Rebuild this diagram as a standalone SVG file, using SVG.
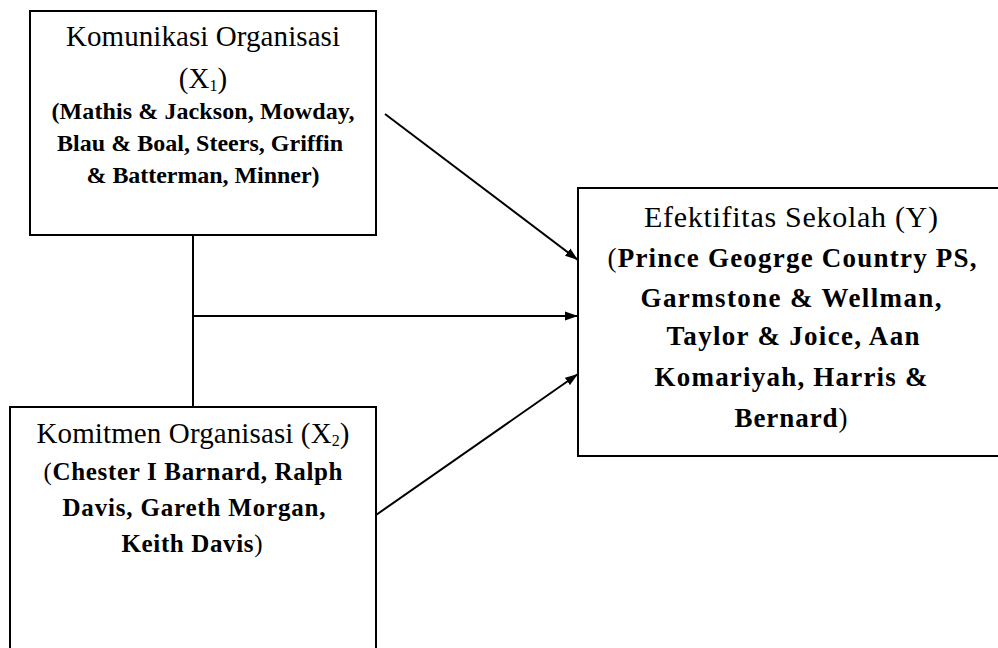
<svg xmlns="http://www.w3.org/2000/svg" width="998" height="648" viewBox="0 0 998 648">
<style>
.box{fill:#fff;stroke:#000;stroke-width:2}
.reg{font-family:"Liberation Serif","Times New Roman",serif;font-size:29px;fill:#000}
.bold{font-family:"Liberation Serif","Times New Roman",serif;font-size:24px;font-weight:bold;fill:#000}
.b25{font-size:25px}
.b27{font-size:27px}
.r30{font-size:30px}
.n{font-weight:normal}
.conn{stroke:#000;stroke-width:2;fill:none}
.sub{font-size:16px}
</style>
<defs>
<marker id="ah" markerUnits="userSpaceOnUse" markerWidth="14" markerHeight="10" refX="13" refY="5" orient="auto">
<path d="M0,0.5 L13,5 L0,9.5 z" fill="#000"/>
</marker>
</defs>
<rect width="998" height="648" fill="#fff"/>
<g id="connectors">
<line class="conn" x1="193" y1="235" x2="193" y2="407"/>
<line class="conn" x1="385" y1="114" x2="578" y2="260" marker-end="url(#ah)"/>
<line class="conn" x1="193" y1="316" x2="578" y2="316" marker-end="url(#ah)"/>
<line class="conn" x1="376" y1="515" x2="578" y2="374" marker-end="url(#ah)"/>
</g>
<g id="node-x1">
<rect class="box" x="30" y="11" width="346" height="224"/>
<text class="reg" x="203" y="46" text-anchor="middle" textLength="274">Komunikasi Organisasi</text>
<text class="reg" x="203" y="88" text-anchor="middle">(X<tspan class="sub" dy="3">1</tspan><tspan dy="-3">)</tspan></text>
<text class="bold" x="203" y="119" text-anchor="middle" textLength="303">(Mathis &amp; Jackson, Mowday,</text>
<text class="bold" x="200" y="151" text-anchor="middle" textLength="286">Blau &amp; Boal, Steers, Griffin</text>
<text class="bold" x="203" y="183" text-anchor="middle" textLength="233">&amp; Batterman, Minner)</text>
</g>
<g id="node-x2">
<rect class="box" x="10" y="407" width="366" height="260"/>
<text class="reg" x="193" y="443" text-anchor="middle" textLength="313">Komitmen Organisasi (X<tspan class="sub" dy="3">2</tspan><tspan dy="-3">)</tspan></text>
<text class="bold b25" x="193" y="480" text-anchor="middle" textLength="299"><tspan class="n">(</tspan>Chester I Barnard, Ralph</text>
<text class="bold b25" x="194" y="516" text-anchor="middle" textLength="263">Davis, Gareth Morgan,</text>
<text class="bold b25" x="192" y="552" text-anchor="middle" textLength="141">Keith Davis<tspan class="n">)</tspan></text>
</g>
<g id="node-y">
<rect class="box" x="578" y="188" width="440" height="268"/>
<text class="reg r30" x="791" y="227" text-anchor="middle" textLength="294">Efektifitas Sekolah (Y)</text>
<text class="bold b27" x="792" y="267" text-anchor="middle" textLength="369"><tspan class="n">(</tspan>Prince Geogrge Country PS,</text>
<text class="bold b27" x="791" y="307" text-anchor="middle" textLength="301">Garmstone &amp; Wellman,</text>
<text class="bold b27" x="793" y="345" text-anchor="middle" textLength="253">Taylor &amp; Joice, Aan</text>
<text class="bold b27" x="791" y="386" text-anchor="middle" textLength="273">Komariyah, Harris &amp;</text>
<text class="bold b27" x="791" y="427" text-anchor="middle" textLength="113">Bernard<tspan class="n">)</tspan></text>
</g>
</svg>
